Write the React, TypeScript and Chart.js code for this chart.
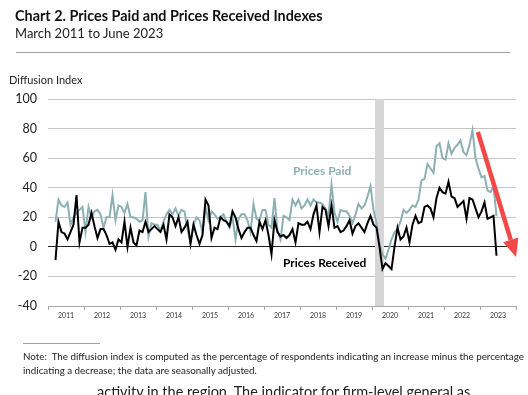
import React, { useEffect, useRef } from "react";
import { Chart, registerables } from "chart.js";

Chart.register(...registerables);

// ---- data ----
const START_YEAR = 2011;
const START_MONTH = 3; // March 2011 .. June 2023, monthly
const yearLabels = ["2011", "2012", "2013", "2014", "2015", "2016", "2017", "2018", "2019", "2020", "2021", "2022", "2023"];
const yTickValues = [-40, -20, 0, 20, 40, 60, 80, 100];

const pricesPaid = [
  17, 32, 28, 27, 30, 15, 20, 23, 25, 27,
  10, 27, 20, 24, 25, 22, 13, 20, 20, 35, 18, 28,
  27, 23, 29, 20, 20, 19, 17, 18, 37, 7, 16, 15,
  15, 11, 17, 22, 25, 22, 26, 21, 25, 24, 12, 3,
  15, 20, 18, 10, 27, 18, 24, 22, 19, 20, 22, 17,
  13, 20, 5, 19, 22, 22, 18, 10, 29, 19, 18, 25,
  25, 15, 13, 33, 11, 5, 21, 20, 18, 32, 28, 32,
  26, 28, 32, 28, 32, 30, 30, 29, 26, 21, 42, 23,
  17, 25, 24, 24, 21, 16, 22, 29, 26, 28, 34, 41,
  25, 16, 2, -5, -8, -2, 5, 10, 12, 17, 25, 23,
  25, 28, 27, 32, 45, 46, 56, 53, 50, 68, 70, 60,
  59, 70, 63, 67, 69, 72, 64, 62, 69, 79, 60, 53,
  47, 48, 38, 37, 41, 21,
];

const pricesReceived = [
  -9, 17, 10, 9, 5, 10, 15, 35, 3, 13,
  13, 15, 23, 14, 6, 12, 12, 8, 2, 3, -2, 5,
  3, 17, 0, 13, 3, 1, 11, 10, 17, 10, 12, 14,
  12, 10, 15, 5, 22, 20, 14, 20, 10, 13, 17, 2,
  15, 8, 2, 8, 32, 28, 6, 13, 12, 20, 18, 17,
  14, 24, 20, 12, 6, 10, 13, 13, 8, 4, 17, 12,
  18, 8, -5, 18, 10, 7, 8, 6, 8, 12, 3, 16,
  15, 15, 17, 12, 22, 28, 10, 27, 25, 14, 28, 13,
  14, 10, 11, 14, 18, 9, 14, 16, 13, 10, 16, 21,
  15, 13, 0, -15, -11, -13, -15, 0, 13, 5, 7, 13,
  3, 15, 21, 16, 17, 27, 28, 26, 20, 33, 40, 37,
  36, 44, 34, 33, 27, 29, 31, 19, 33, 32, 26, 20,
  24, 30, 19, 20, 21, -6,
];

// recession shading: Feb 2020 - Apr 2020 (year, month)
const recessionStart = [2020, 2];
const recessionEnd = [2020, 4];
// red arrow (x in years, y in index units)
const arrowFrom = [2022.94, 77.7];
const arrowTo = [2024.0, -6.9];

const toX = (i: number) => START_YEAR + (START_MONTH - 1 + i + 0.5) / 12;
const monthStart = (ym: number[]) => ym[0] + (ym[1] - 1) / 12;
const monthEnd = (ym: number[]) => ym[0] + ym[1] / 12;

const FONT = "Lato, 'Open Sans', sans-serif";

const overlayPlugin = {
  id: "overlay",
  beforeDatasetsDraw(chart: any) {
    const { ctx, chartArea, scales } = chart;
    const x0 = scales.x.getPixelForValue(monthStart(recessionStart));
    const x1 = scales.x.getPixelForValue(monthEnd(recessionEnd));
    ctx.save();
    ctx.fillStyle = "#d6d6d6";
    ctx.fillRect(x0, chartArea.top, x1 - x0, chartArea.bottom - chartArea.top);
    ctx.restore();
  },
  afterDatasetsDraw(chart: any) {
    const { ctx, scales } = chart;
    const sx = scales.x.getPixelForValue(arrowFrom[0]);
    const sy = scales.y.getPixelForValue(arrowFrom[1]);
    const tx = scales.x.getPixelForValue(arrowTo[0]);
    const ty = scales.y.getPixelForValue(arrowTo[1]);
    const ang = Math.atan2(ty - sy, tx - sx);
    const headLen = 18;
    const headHalf = 8;
    const bx = tx - headLen * Math.cos(ang);
    const by = ty - headLen * Math.sin(ang);
    ctx.save();
    ctx.strokeStyle = "#f44848";
    ctx.fillStyle = "#f44848";
    ctx.lineWidth = 4.5;
    ctx.lineCap = "butt";
    ctx.beginPath();
    ctx.moveTo(sx, sy);
    ctx.lineTo(bx, by);
    ctx.stroke();
    ctx.beginPath();
    ctx.moveTo(tx, ty);
    ctx.lineTo(bx + headHalf * Math.sin(ang), by - headHalf * Math.cos(ang));
    ctx.lineTo(bx - headHalf * Math.sin(ang), by + headHalf * Math.cos(ang));
    ctx.closePath();
    ctx.fill();
    ctx.restore();
  },
};

function PriceChart() {
  const ref = useRef<HTMLCanvasElement | null>(null);
  useEffect(() => {
    if (!ref.current) return;
    const xTicks: number[] = [];
    for (let i = 0; i <= yearLabels.length; i++) xTicks.push(START_YEAR + i);
    for (let i = 0; i < yearLabels.length; i++) xTicks.push(START_YEAR + i + 0.5);
    xTicks.sort((a, b) => a - b);

    const chart = new Chart(ref.current, {
      type: "line",
      data: {
        datasets: [
          {
            label: "Prices Received",
            data: pricesReceived.map((v, i) => ({ x: toX(i), y: v })),
            borderColor: "#000000",
            borderWidth: 2,
            pointRadius: 0,
            tension: 0,
            order: 0,
          },
          {
            label: "Prices Paid",
            data: pricesPaid.map((v, i) => ({ x: toX(i), y: v })),
            borderColor: "#8db0b3",
            borderWidth: 2,
            pointRadius: 0,
            tension: 0,
            order: 1,
          },
        ],
      },
      options: {
        animation: false,
        responsive: false,
        maintainAspectRatio: false,
        events: [],
        layout: { padding: { top: 99, bottom: 69, left: 0, right: 12 } },
        plugins: { legend: { display: false }, tooltip: { enabled: false } },
        scales: {
          x: {
            type: "linear",
            min: START_YEAR,
            max: START_YEAR + yearLabels.length,
            afterBuildTicks: (s: any) => {
              s.ticks = xTicks.map((value) => ({ value }));
            },
            afterFit: (s: any) => {
              s.height = 20;
            },
            ticks: {
              autoSkip: false,
              maxRotation: 0,
              minRotation: 0,
              padding: 2,
              color: "#333333",
              font: { family: FONT, size: 7 },
              callback: (v: any) => {
                const n = Number(v);
                if (Number.isInteger(n)) return "";
                return yearLabels[Math.floor(n) - START_YEAR] ?? "";
              },
            },
            grid: {
              drawOnChartArea: false,
              tickLength: 4,
              color: (c: any) => (c.tick && Number.isInteger(c.tick.value) ? "#a8a8a8" : "rgba(0,0,0,0)"),
            },
            border: { color: "#a8a8a8" },
          },
          y: {
            min: -40,
            max: 100,
            afterBuildTicks: (s: any) => {
              s.ticks = yTickValues.map((value) => ({ value }));
            },
            afterFit: (s: any) => {
              s.width = 48;
            },
            ticks: {
              padding: 11,
              color: "#222222",
              font: { family: FONT, size: 12.5 },
            },
            grid: {
              drawTicks: false,
              color: (c: any) => (c.tick && c.tick.value === 0 ? "#222222" : "#c4c4c4"),
              lineWidth: 1,
            },
            border: { display: false },
          },
        },
      },
      plugins: [overlayPlugin],
    });
    return () => chart.destroy();
  }, []);
  return <canvas ref={ref} width={528} height={395} style={{ position: "absolute", left: 0, top: 0, width: 528, height: 395 }} />;
}

const txt = (top: number, left: number, size: number, extra: React.CSSProperties = {}): React.CSSProperties => ({
  position: "absolute",
  top,
  left,
  fontSize: size,
  lineHeight: `${size}px`,
  whiteSpace: "nowrap",
  fontFamily: FONT,
  ...extra,
});

export default function App() {
  useEffect(() => {
    document.body.style.margin = "0";
  }, []);
  return (
    <div style={{ position: "relative", width: 528, height: 395, overflow: "hidden", background: "#fff", fontFamily: FONT }}>
      <PriceChart />
      <div style={txt(9.2, 15, 14.4, { fontWeight: 700, color: "#111" })}>Chart 2. Prices Paid and Prices Received Indexes</div>
      <div style={txt(27.2, 15, 13, { color: "#222" })}>March 2011 to June 2023</div>
      <div style={{ position: "absolute", top: 52, left: 16, width: 494, height: 1, background: "#a0a0a0" }} />
      <div style={txt(74.4, 9, 11, { color: "#222" })}>Diffusion Index</div>
      <div style={txt(164.5, 293, 12, { fontWeight: 700, color: "#8db0b3" })}>Prices Paid</div>
      <div style={txt(257.2, 283, 12, { fontWeight: 700, color: "#000" })}>Prices Received</div>
      <div style={{ position: "absolute", top: 343, left: 23, width: 77, height: 1, background: "#a0a0a0" }} />
      <div style={txt(351.5, 23, 9.8, { color: "#222" })}>
        Note:&nbsp; The diffusion index is computed as the percentage of respondents indicating an increase minus the percentage
      </div>
      <div style={txt(365.5, 23, 9.8, { color: "#222" })}>indicating a decrease; the data are seasonally adjusted.</div>
      <div style={txt(385, 97, 14.5, { color: "#222" })}>activity in the region. The indicator for firm-level general as</div>
    </div>
  );
}
